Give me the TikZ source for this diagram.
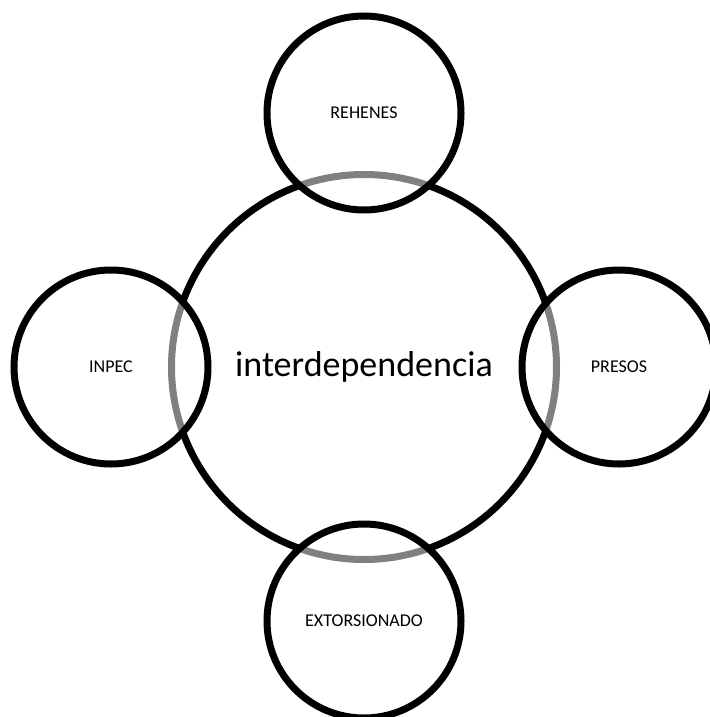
\documentclass[tikz,border=0pt]{standalone}
\usepackage{fontspec}
\setmainfont{Carlito}
\begin{document}
\begin{tikzpicture}[x=1pt,y=-1pt,
  hub/.style={circle, draw=black, line width=7pt, minimum size=385pt,
    inner sep=0pt, font=\fontsize{36}{40}\selectfont},
  sat/.style={circle, draw=black, line width=7pt, fill=white,
    fill opacity=0.5, text opacity=1, minimum size=194pt, inner sep=0pt,
    font=\fontsize{18}{22}\selectfont}]
\useasboundingbox (0,0) rectangle (709,717);
% central circle
\node[hub] (hub) at (364,367) {interdependencia};
% satellites, half-transparent fill shades the hub outline beneath them
\node[sat] (top)    at (364,113) {REHENES};
\node[sat] (left)   at (111,367) {INPEC};
\node[sat] (right)  at (619,367) {PRESOS};
\node[sat] (bottom) at (364,621) {EXTORSIONADO};
\end{tikzpicture}
\end{document}
